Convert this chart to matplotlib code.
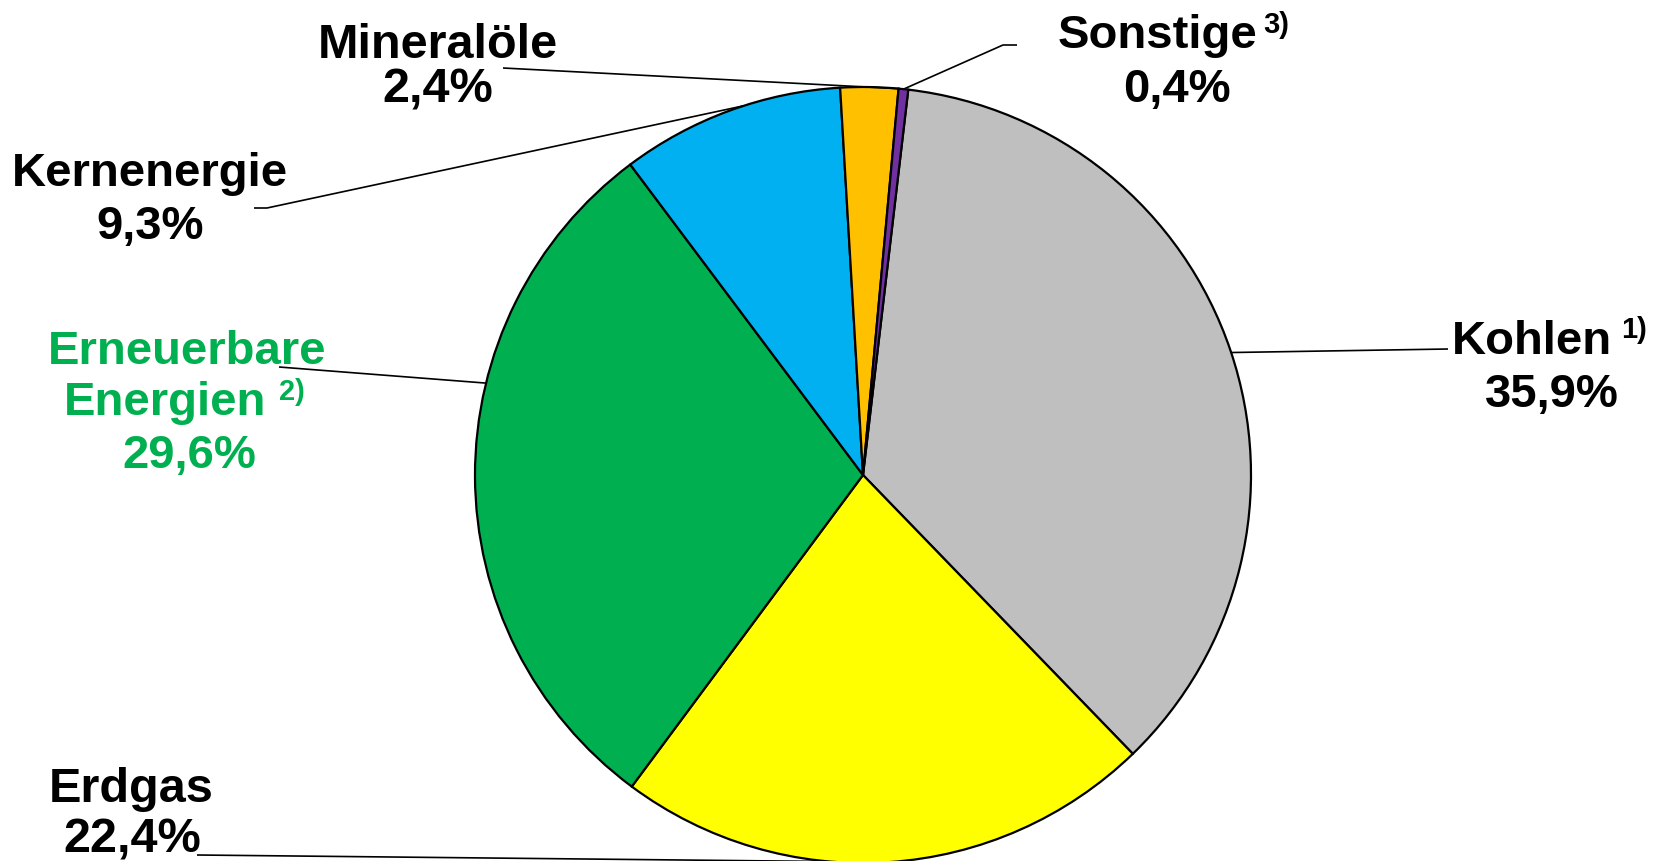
import numpy as np
import matplotlib
matplotlib.use('Agg')
import matplotlib.pyplot as plt

# Primärenergieverbrauch nach Energieträgern (Anteile in %)
names = ['Kohlen', 'Erdgas', 'Erneuerbare Energien', 'Kernenergie', 'Mineralöle', 'Sonstige']
shares = [35.9, 22.4, 29.6, 9.3, 2.4, 0.4]
colors = ['#BFBFBF', '#FFFF00', '#00B050', '#00B0F0', '#FFC000', '#7030A0']
pct_labels = ['35,9%', '22,4%', '29,6%', '9,3%', '2,4%', '0,4%']

W, H = 1667, 861
fig = plt.figure(figsize=(W / 100, H / 100), dpi=100)
ax = fig.add_axes([0, 0, 1, 1])

cx, cy, r = 863, H - 475, 388
wedges, _ = ax.pie(shares, colors=colors, startangle=83.3, counterclock=False,
                   radius=r, center=(cx, cy),
                   wedgeprops=dict(edgecolor='black', linewidth=1.6))
ax.set_xlim(0, W)
ax.set_ylim(0, H)
ax.set_aspect('equal')
ax.axis('off')

bold = dict(fontweight='bold', family=['Liberation Sans', 'DejaVu Sans'])
green = '#00B050'
FS = 34      # main label size
SUP = 21     # footnote markers


def Y(y):
    return H - y


def txt(x, y, s, size=FS, color='black', ha='center'):
    ax.text(x, Y(y), s, fontsize=size, color=color, ha=ha, va='baseline', **bold)


def leader(points, ang):
    a = np.deg2rad(ang)
    xs = [p[0] for p in points] + [cx + r * np.cos(a)]
    ys = [Y(p[1]) for p in points] + [cy + r * np.sin(a)]
    ax.plot(xs, ys, color='black', lw=1.2, solid_capstyle='butt')


# Kohlen
txt(1532, 354, names[0])
txt(1621, 338, '1)', size=SUP, ha='left')
txt(1552, 407, pct_labels[0])
leader([(1448, 349)], 18.4)

# Erdgas
txt(131, 802, names[1], size=35)
txt(132, 853, pct_labels[1], size=35)
leader([(197, 855)], -95.0)

# Erneuerbare Energien
txt(187, 364, 'Erneuerbare', color=green)
txt(165, 415, 'Energien', color=green)
txt(279, 400, '2)', size=SUP, color=green, ha='left')
txt(189, 468, pct_labels[2], color=green)
leader([(279, 367)], 166.3)

# Kernenergie
txt(150, 186, names[3])
txt(150, 239, pct_labels[3])
leader([(254, 208), (267, 208)], 107.9)

# Mineralöle
txt(438, 58, names[4], size=35)
txt(438, 103, pct_labels[4], size=35)
leader([(503, 68)], 84.6)

# Sonstige
txt(1158, 48, names[5])
txt(1263, 33, '3)', size=SUP, ha='left')
txt(1177, 102, pct_labels[5])
leader([(1017, 45), (1003, 45)], 84.0)

fig.savefig('out.png', dpi=100)
